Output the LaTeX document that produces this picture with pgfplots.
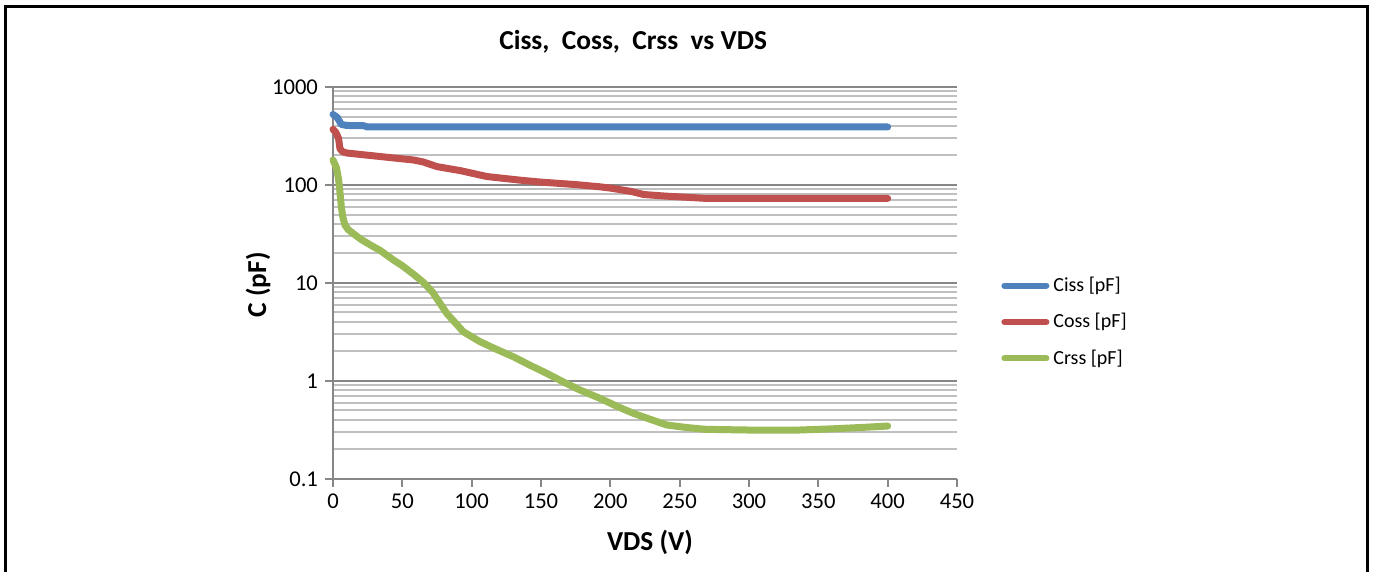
\documentclass[border=0pt]{standalone}
\usepackage{pgfplots}
\pgfplotsset{compat=1.18}
\usepackage{fontspec}
\setmainfont{Carlito}
\definecolor{ciss}{HTML}{4F81BD}
\definecolor{coss}{HTML}{C0504D}
\definecolor{crss}{HTML}{9BBB59}
\definecolor{majgrid}{HTML}{878787}
\definecolor{mingrid}{HTML}{C0C0C0}
\begin{document}
\begin{tikzpicture}
\useasboundingbox (0,0) rectangle (686.5pt,286pt);
\draw[black, line width=1.5pt] (2.75pt,-5pt) -- (2.75pt,282.5pt) -- (683.5pt,282.5pt) -- (683.5pt,-5pt);
\begin{axis}[
  at={(166.5pt,46.5pt)}, anchor=south west,
  scale only axis, width=312pt, height=196pt,
  ymode=log, xmin=0, xmax=450, ymin=0.1, ymax=1000,
  axis x line*=bottom, axis y line*=left,
  axis line style={majgrid, line width=1pt},
  xtick={0,50,...,450},
  ytick={0.1,1,10,100,1000},
  yticklabels={0.1,1,10,100,1000},
  /pgf/number format/assume math mode=true,
  tick align=outside, major tick length=4pt, minor tick length=0pt,
  major tick style={majgrid, line width=1pt},
  tick label style={font=\fontsize{11.3}{13}\selectfont, text=black},
  ymajorgrids, yminorgrids,
  major grid style={majgrid, line width=1pt},
  minor grid style={mingrid, line width=1pt},
  clip=false,
  title={Ciss,\ \ Coss,\ \ Crss\ \ vs VDS},
  title style={at={(axis description cs:0.481,1.084)}, anchor=center, font=\fontsize{13.7}{16}\selectfont\bfseries},
  xlabel={VDS (V)}, ylabel={C (pF)},
  xlabel style={at={(axis description cs:0.508,-0.161)}, anchor=center, font=\fontsize{13.7}{16}\selectfont\bfseries},
  ylabel style={at={(axis description cs:-0.12,0.495)}, anchor=center, font=\fontsize{13.7}{16}\selectfont\bfseries},
  legend style={at={(axis description cs:1.0705,0.4005)}, anchor=west, draw=none, fill=none,
    font=\fontsize{10}{12}\selectfont, row sep=5.5pt, inner xsep=0pt,
    /tikz/every even column/.append style={column sep=0pt}},
  legend cell align=left,
  legend image code/.code={\draw[#1, line width=3pt, line cap=round] (0pt,0pt) -- (21pt,0pt);},
  every axis plot/.append style={line width=3.5pt, line cap=round, line join=round, mark=none},
]
\addplot[ciss] coordinates {
(0,525) (3,490) (6,415) (10,405) (22,403) (25,391) (100,391) (200,391) (300,391) (400,391)
};
\addlegendentry{Ciss [pF]}
\addplot[coss] coordinates {
(0,370) (2,345) (4,300) (5,235) (7,218) (10,212) (27,200) (45,188) (58,180) (65,172) (75,154)
(92,140) (111,122) (135,112) (150,107) (175,101) (192,96) (200,93) (215,86) (224,80) (240,77)
(255,75) (269,73) (300,73) (350,73) (400,73)
};
\addlegendentry{Coss [pF]}
\addplot[crss] coordinates {
(0,180) (2.5,150) (4,115) (5,85) (6,60) (7,48) (8.6,39) (11,35) (14.6,32) (20,28) (27,24.4)
(34,21.5) (43.5,17.2) (50,15) (58,12.3) (65,10.2) (72,8) (82,4.9) (94,3.18) (106,2.52) (118,2.1)
(130,1.77) (142,1.45) (154,1.2) (166,0.98) (178,0.81) (192.6,0.665) (205,0.55) (216.6,0.468)
(228,0.41) (240.6,0.356) (255,0.335) (269,0.321) (300,0.316) (336,0.316) (360,0.325) (380,0.335) (400,0.347)
};
\addlegendentry{Crss [pF]}
\end{axis}
\end{tikzpicture}
\end{document}
